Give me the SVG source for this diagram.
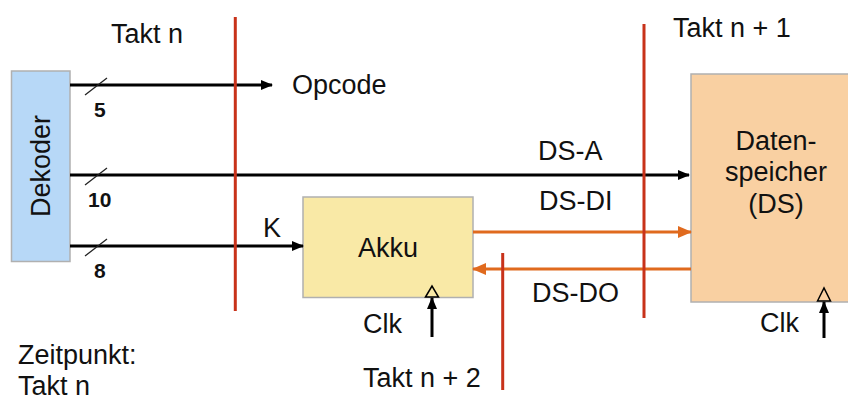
<svg xmlns="http://www.w3.org/2000/svg" width="848" height="400" viewBox="0 0 848 400">
<defs>
<style>
text{font-family:"Liberation Sans",Arial,sans-serif;font-size:27px;fill:#111}
.num{font-size:21px;font-weight:bold}
.wire{stroke:#000;stroke-width:3;fill:none}
.owire{stroke:#e06a1e;stroke-width:3;fill:none}
.red{stroke:#c8321a;stroke-width:3}
.slash{stroke:#222;stroke-width:1.3}
.box{stroke:#b0b0b0;stroke-width:1.5}
.clk{fill:none;stroke:#000;stroke-width:1.5}
</style>
<marker id="ah" markerWidth="12" markerHeight="10" refX="11" refY="5" orient="auto" markerUnits="userSpaceOnUse"><path d="M0,0 L12,5 L0,10 Z" fill="#000"/></marker>
<marker id="oh" markerWidth="14" markerHeight="12" refX="13" refY="6" orient="auto" markerUnits="userSpaceOnUse"><path d="M0,0 L14,6 L0,12 Z" fill="#e06a1e"/></marker>
</defs>
<rect width="848" height="400" fill="#fff"/>
<g id="dekoder"><rect class="box" x="11.5" y="71" width="58.5" height="190.5" fill="#b7d8f7"/><text transform="translate(50,166) rotate(-90)" text-anchor="middle">Dekoder</text></g>
<g id="akku"><rect class="box" x="303" y="197" width="170" height="100.5" fill="#f9e9a6"/><text x="358" y="257">Akku</text><path class="clk" d="M425.5,297 L432,286 L438.5,297 Z"/></g>
<g id="ds"><rect class="box" x="691" y="74" width="165" height="228" fill="#f9d0a2"/><text text-anchor="middle"><tspan x="776" y="150">Daten-</tspan><tspan x="776" y="181">speicher</tspan><tspan x="776" y="213">(DS)</tspan></text><path class="clk" d="M817.5,301 L824,288 L830.5,301 Z"/></g>
<g id="connectors">
<line class="wire" x1="70" y1="85" x2="272" y2="85" marker-end="url(#ah)"/>
<line class="wire" x1="70" y1="175" x2="689" y2="175" marker-end="url(#ah)"/>
<line class="wire" x1="70" y1="246" x2="303" y2="246" marker-end="url(#ah)"/>
<line class="slash" x1="85" y1="95" x2="107" y2="78"/>
<line class="slash" x1="85" y1="185" x2="107" y2="168"/>
<line class="slash" x1="85" y1="256" x2="107" y2="239"/>
<line class="owire" x1="473" y1="232" x2="691" y2="232" marker-end="url(#oh)"/>
<line class="owire" x1="691" y1="269" x2="473" y2="269" marker-end="url(#oh)"/>
<line class="wire" x1="432" y1="337" x2="432" y2="298" marker-end="url(#ah)"/>
<line class="wire" x1="824" y1="338" x2="824" y2="302" marker-end="url(#ah)"/>
</g>
<g id="takt-lines">
<line class="red" x1="235.3" y1="17" x2="235.3" y2="311"/>
<line class="red" x1="644" y1="24" x2="644" y2="318"/>
<line class="red" x1="502.7" y1="253" x2="502.7" y2="390"/>
</g>
<g id="labels">
<text x="111" y="43">Takt n</text>
<text x="673" y="37">Takt n + 1</text>
<text x="292" y="94">Opcode</text>
<text x="538" y="160">DS-A</text>
<text x="539" y="210">DS-DI</text>
<text x="532" y="302">DS-DO</text>
<text x="263" y="237">K</text>
<text x="363" y="333">Clk</text>
<text x="760" y="332">Clk</text>
<text x="363" y="387">Takt n + 2</text>
<text x="18" y="364">Zeitpunkt:</text>
<text x="18" y="395">Takt n</text>
<text class="num" x="94" y="117">5</text>
<text class="num" x="88" y="207">10</text>
<text class="num" x="94" y="278">8</text>
</g>
</svg>
